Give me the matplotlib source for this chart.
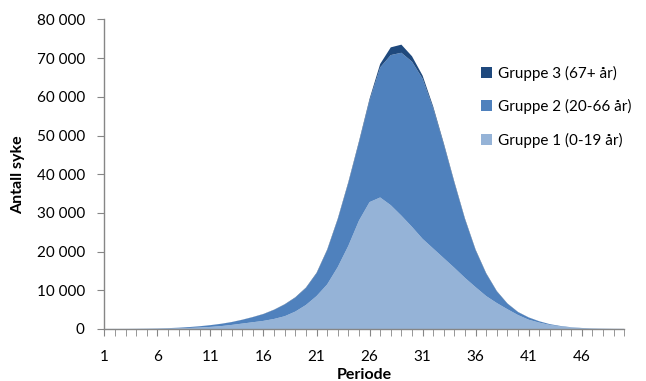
import numpy as np
import matplotlib
matplotlib.use("Agg")
import matplotlib.pyplot as plt
from matplotlib.ticker import FuncFormatter, MultipleLocator

plt.rcParams['font.family'] = ['Lato', 'DejaVu Sans']

# Data (antall syke per periode)
periods = np.arange(1, 51)
gruppe1 = [5, 10, 18, 30, 50, 80, 120, 180, 270, 380,
           540, 750, 1050, 1400, 1750, 2100, 2600, 3300, 4500, 6200,
           8500, 11500, 16000, 21500, 28000, 32800, 34000, 32000, 29300, 26400,
           23300, 20800, 18300, 15800, 13200, 10800, 8500, 6700, 5100, 3600,
           2400, 1650, 1050, 650, 380, 220, 130, 80, 50, 30]
gruppe2 = [5, 10, 12, 25, 40, 60, 100, 160, 230, 330,
           450, 580, 730, 970, 1310, 1750, 2340, 3020, 3600, 4380,
           5850, 8800, 12250, 16200, 20100, 26200, 33600, 38800, 42100, 42700,
           41400, 36200, 29300, 21900, 15050, 9500, 5750, 3000, 1430, 750,
           570, 330, 190, 120, 80, 50, 30, 20, 10, 5]
gruppe3 = [0, 0, 0, 0, 0, 0, 0, 0, 0, 10,
           10, 20, 20, 30, 40, 50, 60, 80, 100, 120,
           150, 200, 250, 300, 400, 500, 900, 2000, 2100, 1400,
           800, 500, 400, 300, 250, 200, 150, 100, 70, 50,
           30, 20, 10, 10, 0, 0, 0, 0, 0, 0]
labels = ['Gruppe 1 (0-19 år)', 'Gruppe 2 (20-66 år)', 'Gruppe 3 (67+ år)']
colors = ['#95B3D7', '#4F81BD', '#1F497D']

fig = plt.figure(figsize=(6.46, 3.81), dpi=100)
ax = fig.add_axes([104.3 / 646, 1 - 329 / 381, (624.2 - 104.3) / 646, (329 - 19.5) / 381])

polys = ax.stackplot(periods, gruppe1, gruppe2, gruppe3, colors=colors,
                     labels=labels, linewidth=0)

ax.set_xlim(1, 50)
ax.set_ylim(0, 80000)
ax.set_xticks(np.arange(1, 50, 5))
ax.xaxis.set_minor_locator(MultipleLocator(1))
ax.yaxis.set_major_locator(MultipleLocator(10000))
ax.yaxis.set_major_formatter(FuncFormatter(lambda v, p: f"{int(v):,}".replace(",", " ")))

for s in ['top', 'right']:
    ax.spines[s].set_visible(False)
for s in ['left', 'bottom']:
    ax.spines[s].set_color('#868686')
    ax.spines[s].set_linewidth(1)
ax.tick_params(axis='both', which='both', direction='out', color='#868686',
               labelsize=11, labelcolor='black')
ax.tick_params(axis='x', which='major', length=5, pad=10)
ax.tick_params(axis='x', which='minor', length=5)
ax.tick_params(axis='y', length=5, pad=9)

ax.set_xlabel('Periode', fontsize=11.5, fontweight='bold', labelpad=3)
ax.set_ylabel('Antall syke', fontsize=11.5, fontweight='bold', labelpad=8)

h, l = ax.get_legend_handles_labels()
ax.legend(h[::-1], l[::-1], loc='upper left', bbox_to_anchor=(467 / 646, 1 - 52 / 381),
          bbox_transform=fig.transFigure, frameon=False, fontsize=11,
          handlelength=0.75, handleheight=0.75, handletextpad=0.35, labelspacing=1.2)

fig.savefig('out.png', dpi=100)
